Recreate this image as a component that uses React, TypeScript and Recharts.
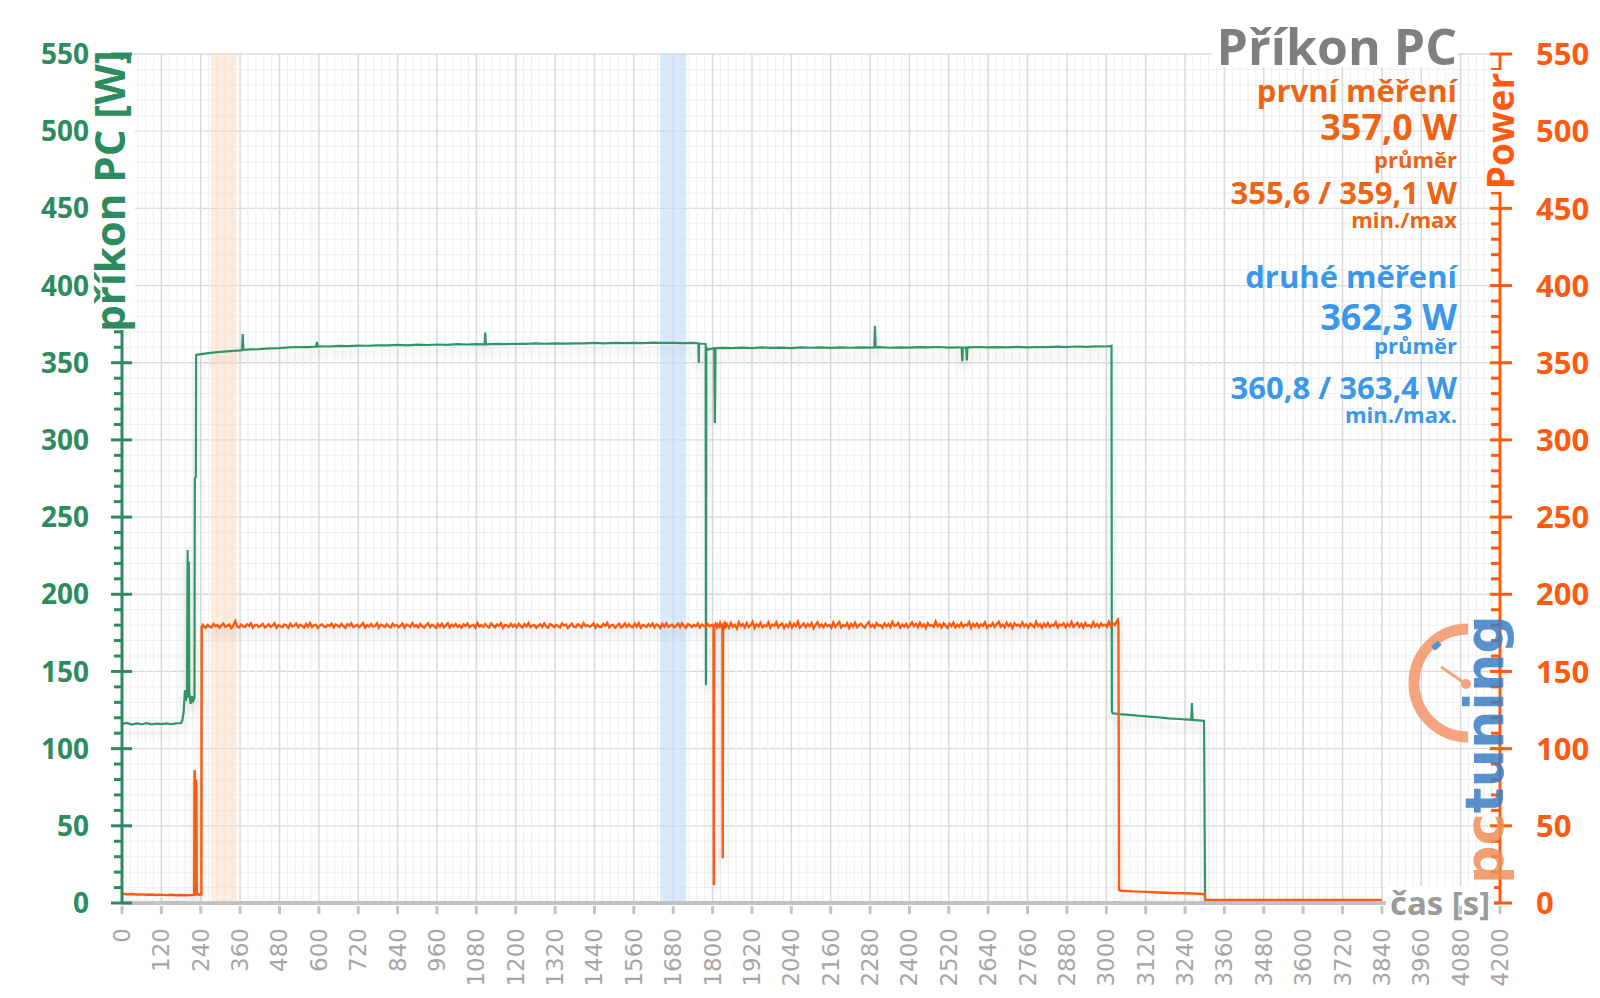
import React from 'react';
import { LineChart, Line, XAxis, YAxis, CartesianGrid, ReferenceArea } from 'recharts';

const FONT = '"Open Sans", "DejaVu Sans", sans-serif';
const GREEN = '#2e8b5f';
const GREEN_LINE = '#2f9668';
const ORANGE = '#ff5a0f';
const ORANGE_TEXT = '#ec6414';
const BLUE = '#3b97ea';

// plot box in page pixels (used for margins and grid styling)
const PLOT = { left: 122, right: 1500, top: 54, bottom: 903 };

// axis labels
const timeLabels = [0, 120, 240, 360, 480, 600, 720, 840, 960, 1080, 1200, 1320, 1440, 1560, 1680, 1800, 1920, 2040,
  2160, 2280, 2400, 2520, 2640, 2760, 2880, 3000, 3120, 3240, 3360, 3480, 3600, 3720, 3840, 3960, 4080, 4200];
const powerLabels = [0, 50, 100, 150, 200, 250, 300, 350, 400, 450, 500, 550];
const timeGrid = Array.from({ length: 176 }, (_, i) => i * 24);
const powerGrid = Array.from({ length: 56 }, (_, i) => i * 10);

// highlighted windows (s)
const bandFirst = [270, 350];
const bandSecond = [1640, 1720];

// příkon PC (green) – irregular parts
const greenStartT = [0, 15, 30, 45, 60, 75, 90, 105, 120, 135, 150, 165, 180, 184, 188, 192, 195, 198, 200, 201, 203, 204, 205, 209, 213, 217, 221, 222, 225, 226];
const greenStartW = [116.0, 116.7, 115.6, 116.4, 115.8, 116.5, 115.7, 116.2, 115.9, 116.3, 115.8, 116.4, 116.6, 118.5, 124.0, 138.0, 131.0, 136.0, 228.7, 140.0, 133.0, 221.0, 137.0, 129.0, 134.0, 131.0, 133.0, 275.0, 276.0, 355.0];
// 240 s .. 1740 s, every 30 s
const greenLoadA = [355.6, 356.4, 357.0, 357.5, 358.0, 358.6, 358.8, 359.3, 359.5, 359.9,
  360.2, 360.1, 360.6, 360.5, 360.9, 360.7, 361.1, 361.0, 361.3, 361.2,
  361.5, 361.3, 361.7, 361.5, 361.8, 361.6, 362.0, 361.8, 362.1, 361.9,
  362.2, 362.0, 362.3, 362.2, 362.5, 362.3, 362.6, 362.4, 362.6, 362.5,
  362.8, 362.6, 362.8, 362.7, 362.9, 362.7, 363.0, 362.8, 362.9, 362.7, 362.8];
const greenSpikeT = [366, 368, 370, 592, 594, 596, 1105, 1107, 1109, 2293, 2295, 2297, 2559, 2561, 2563, 2573, 2575, 2577];
const greenSpikeW = [358.1, 368.6, 358.3, 360.5, 363.5, 360.4, 361.9, 369.5, 361.9, 359.9, 374.0, 359.9, 359.9, 351.0, 359.8, 359.9, 351.5, 359.9];
const greenMidT = [1752, 1757, 1758, 1759, 1776, 1779, 1780, 1781, 1786, 1795, 1805, 1807, 1809, 1815];
const greenMidW = [362.7, 362.5, 350.0, 362.4, 362.3, 362.0, 141.0, 359.8, 358.6, 359.0, 359.3, 311.0, 359.2, 359.5];
// 1830 s .. 3000 s, every 30 s
const greenLoadB = [359.6, 359.4, 359.8, 359.5, 359.9, 359.6, 359.8, 359.5, 359.9, 359.7,
  360.0, 359.6, 359.9, 359.7, 360.0, 359.8, 360.1, 359.7, 360.0, 359.8,
  360.1, 359.9, 360.2, 359.8, 360.0, 359.9, 360.2, 359.9, 360.1, 360.0,
  360.3, 360.0, 360.2, 360.1, 360.4, 360.2, 360.5, 360.3, 360.6, 360.5];
const greenEndT = [3010, 3016, 3017, 3020, 3040, 3070, 3100, 3130, 3160, 3190, 3220, 3250, 3259, 3261, 3263, 3280, 3298, 3301, 3320, 3500, 3700, 3840];
const greenEndW = [360.8, 361.0, 124.0, 122.9, 122.4, 121.9, 121.3, 120.8, 120.2, 119.6, 119.2, 118.8, 118.7, 129.6, 118.6, 118.3, 118.0, 1.6, 1.5, 1.5, 1.5, 1.5];

// Power (orange)
const orangeStartT = [0, 15, 30, 45, 60, 75, 90, 105, 120, 135, 150, 165, 180, 195, 210, 220, 221, 222, 223, 225, 226, 227, 228, 235, 242, 243, 246];
const orangeStartW = [6.0, 5.7, 5.8, 5.5, 5.6, 5.3, 5.5, 5.2, 5.4, 5.1, 5.3, 5.0, 5.2, 5.0, 5.1, 5.3, 86.0, 84.5, 6.0, 5.8, 80.0, 76.0, 6.2, 5.4, 5.6, 179.0, 180.2];
// 249 s .. 1797 s, every 6 s
const orangeLoadA = [179.4, 178.2, 180.1, 179.0, 178.6, 180.7, 179.3, 180.0, 178.4, 179.8,
  181.0, 178.9, 179.5, 180.4, 178.1, 179.7, 182.6, 179.2, 178.5, 180.3,
  179.1, 178.7, 180.6, 179.4, 181.1, 178.3, 179.9, 180.2, 178.8, 179.6,
  180.8, 178.5, 179.2, 180.5, 178.9, 179.7, 181.2, 178.2, 180.0, 179.3,
  178.6, 180.4, 179.8, 178.3, 180.9, 179.1, 179.6, 181.0, 178.7, 180.2,
  179.5, 178.4, 180.7, 179.0, 181.3, 178.8, 179.9, 180.3, 178.1, 179.7,
  180.6, 179.2, 178.6, 180.1, 179.4, 181.0, 178.5, 180.4, 179.8, 178.9,
  180.8, 179.3, 178.2, 180.5, 179.6, 181.1, 178.7, 179.4, 180.2, 178.6,
  179.9, 181.4, 178.4, 180.0, 179.1, 180.7, 178.9, 179.5, 181.2, 178.3,
  180.3, 179.7, 178.8, 180.6, 179.2, 178.5, 180.9, 179.4, 180.1, 178.7,
  179.6, 181.0, 178.3, 180.4, 179.8, 178.9, 181.3, 179.1, 180.0, 178.6,
  180.7, 179.3, 178.4, 179.9, 181.1, 178.8, 180.2, 179.5, 178.2, 180.6,
  179.0, 180.9, 178.6, 179.7, 181.2, 178.5, 180.3, 179.2, 180.8, 178.9,
  179.8, 178.3, 180.5, 179.4, 181.0, 178.7, 179.6, 180.2, 178.4, 181.4,
  179.1, 180.0, 178.8, 180.7, 179.3, 178.5, 181.1, 179.9, 178.6, 180.4,
  179.5, 181.2, 178.2, 180.1, 179.7, 178.9, 180.8, 179.0, 180.3, 178.6,
  180.9, 179.4, 178.5, 180.6, 179.2, 181.3, 178.7, 179.8, 180.1, 178.3,
  179.6, 180.5, 178.9, 181.0, 179.1, 178.4, 180.7, 179.9, 178.8, 180.2,
  179.3, 178.6, 181.1, 179.7, 180.4, 178.2, 179.5, 180.9, 179.0, 178.7,
  180.6, 179.8, 178.5, 181.2, 179.3, 180.0, 178.9, 179.6, 181.0, 178.4,
  180.3, 179.1, 178.8, 180.7, 179.5, 181.4, 178.6, 179.9, 180.2, 178.3,
  179.7, 180.8, 178.5, 179.4, 181.1, 178.9, 180.5, 179.2, 178.7, 180.9,
  179.0, 181.3, 178.4, 180.1, 179.6, 178.8, 180.6, 179.3, 181.0, 178.5,
  180.4, 179.8, 178.2, 180.7, 179.1, 181.2, 178.9, 179.7, 180.3, 178.6,
  179.5, 180.9, 178.7, 181.1, 179.4, 178.3, 180.6, 179.9, 178.8, 180.2,
  179.2, 181.0, 178.5, 180.4, 179.7, 178.9, 180.8, 179.3, 180.0];
const orangeMidT = [1800, 1803, 1804, 1805, 1809, 1813, 1816, 1820, 1823, 1827, 1830, 1831, 1832, 1835, 1838, 1841];
const orangeMidW = [180.2, 179.0, 11.6, 179.6, 180.9, 178.6, 180.4, 179.1, 181.2, 178.8, 179.9, 29.0, 180.5, 178.7, 181.0, 179.3];
// 1844 s .. 3032 s, every 6 s
const orangeLoadB = [180.6, 178.3, 181.5, 179.0, 180.2, 177.9, 181.8, 179.4, 180.7, 178.5,
  181.2, 178.8, 180.0, 182.1, 178.2, 180.5, 179.1, 181.4, 178.6, 179.9,
  179.2, 181.7, 178.4, 180.4, 179.6, 181.9, 178.7, 180.1, 181.0, 178.1,
  180.3, 178.9, 181.5, 178.5, 180.8, 179.4, 182.2, 178.4, 179.8, 181.1,
  178.7, 180.6, 179.2, 181.3, 178.0, 180.2, 181.8, 179.0, 180.5, 178.6,
  180.9, 179.5, 180.1, 178.3, 181.7, 178.8, 180.4, 182.0, 178.5, 180.0,
  179.3, 181.2, 178.2, 180.7, 179.1, 181.5, 178.7, 179.9, 180.8, 179.4,
  178.4, 180.5, 181.9, 178.9, 180.2, 178.6, 181.3, 179.6, 180.0, 178.3,
  181.0, 179.2, 180.6, 178.7, 182.1, 179.5, 179.8, 181.4, 178.4, 180.3,
  179.0, 180.8, 178.5, 180.1, 181.8, 179.3, 180.7, 178.7, 181.6, 179.1,
  180.4, 178.1, 181.2, 179.6, 180.0, 178.8, 182.3, 179.2, 180.6, 178.5,
  181.1, 179.7, 178.3, 180.9, 179.4, 181.6, 178.6, 180.2, 179.0, 181.4,
  178.9, 180.3, 179.8, 182.0, 178.2, 180.7, 179.1, 181.0, 178.7, 180.5,
  179.5, 181.8, 178.4, 180.0, 179.3, 181.3, 178.8, 180.6, 182.2, 179.0,
  180.2, 178.6, 181.5, 179.4, 180.8, 178.1, 181.1, 179.7, 180.3, 178.9,
  181.7, 179.2, 180.5, 178.5, 181.0, 179.8, 178.7, 182.1, 179.4, 180.6,
  178.3, 180.9, 179.1, 181.4, 178.8, 180.2, 179.6, 181.9, 178.5, 180.4,
  179.9, 181.2, 178.6, 180.7, 179.3, 182.0, 178.9, 180.1, 181.5, 179.0,
  180.8, 178.4, 181.3, 179.5, 180.0, 178.7, 181.8, 179.2, 180.6, 178.8,
  181.0, 179.6, 180.3, 178.9, 182.2, 179.4, 181.1, 180.0, 182.4];
const orangeEndT = [3035, 3037, 3039, 3040, 3050, 3080, 3120, 3160, 3200, 3240, 3280, 3299, 3302, 3400, 3500, 3600, 3700, 3840];
const orangeEndW = [183.4, 180.6, 8.5, 8.2, 7.9, 7.5, 7.2, 6.8, 6.5, 6.3, 6.0, 5.8, 2.0, 1.9, 2.0, 1.9, 2.0, 1.9];

type Pt = { t: number; w: number };
const pairs = (ts: number[], ws: number[]): Pt[] => ts.map((t, i) => ({ t, w: ws[i] }));
const sampled = (start: number, step: number, ws: number[]): Pt[] => ws.map((w, i) => ({ t: start + i * step, w }));
const byTime = (a: Pt, b: Pt) => a.t - b.t;

const greenData = [
  ...pairs(greenStartT, greenStartW),
  ...sampled(240, 30, greenLoadA),
  ...pairs(greenSpikeT, greenSpikeW),
  ...pairs(greenMidT, greenMidW),
  ...sampled(1830, 30, greenLoadB),
  ...pairs(greenEndT, greenEndW),
].sort(byTime);

const orangeData = [
  ...pairs(orangeStartT, orangeStartW),
  ...sampled(249, 6, orangeLoadA),
  ...pairs(orangeMidT, orangeMidW),
  ...sampled(1844, 6, orangeLoadB),
  ...pairs(orangeEndT, orangeEndW),
].sort(byTime);

const LeftTick = (props: any) => {
  const { x, y, payload } = props;
  if (!powerLabels.includes(payload.value)) {
    return <line x1={x - 8} x2={x} y1={y} y2={y} stroke={GREEN} strokeWidth={3} />;
  }
  return (
    <g>
      <line x1={x - 11} x2={x + 10} y1={y} y2={y} stroke={GREEN} strokeWidth={3} />
      <text x={x - 33} y={y} dy="0.36em" textAnchor="end" fill={GREEN} fontFamily={FONT} fontWeight={700} fontSize={28}>
        {payload.value}
      </text>
    </g>
  );
};

const RightTick = (props: any) => {
  const { x, y, payload } = props;
  if (!powerLabels.includes(payload.value)) {
    return <line x1={x - 9} x2={x} y1={y} y2={y} stroke={ORANGE} strokeWidth={3} />;
  }
  return (
    <g>
      <line x1={x - 10} x2={x + 12} y1={y} y2={y} stroke={ORANGE} strokeWidth={3} />
      <text x={x + 36} y={y} dy="0.36em" textAnchor="start" fill={ORANGE} fontFamily={FONT} fontWeight={700} fontSize={31}>
        {payload.value}
      </text>
    </g>
  );
};

const BottomTick = (props: any) => {
  const { x, y, payload } = props;
  if (!timeLabels.includes(payload.value)) return <g />;
  const ty = y + 25;
  return (
    <g>
      <line x1={x} x2={x} y1={y + 3} y2={y + 11} stroke="#c4c4c4" strokeWidth={3} />
      <text x={x} y={ty} transform={`rotate(-90, ${x}, ${ty})`} textAnchor="end" dominantBaseline="central"
        fill="#a6a6a6" fontFamily='"DejaVu Sans", sans-serif' fontSize={23}>
        {payload.value}
      </text>
    </g>
  );
};

const hLine = (p: any) => {
  const v = Math.round(((PLOT.bottom - p.y1) / (PLOT.bottom - PLOT.top)) * 55) * 10;
  const major = v % 50 === 0;
  return <line key={p.key} x1={p.x1} x2={p.x2} y1={p.y1} y2={p.y2} stroke={major ? '#dadada' : '#efefef'} strokeWidth={major ? 1.3 : 1} />;
};

const vLine = (p: any) => {
  const v = Math.round(((p.x1 - PLOT.left) / (PLOT.right - PLOT.left)) * 175) * 24;
  const major = v % 120 === 0;
  return <line key={p.key} x1={p.x1} x2={p.x2} y1={p.y1} y2={p.y2} stroke={major ? '#d7dadf' : '#efefef'} strokeWidth={major ? 1.5 : 1} />;
};

export default function App() {
  return (
    <div style={{ position: 'absolute', left: 0, top: 0, width: 1600, height: 998, background: '#fff' }}>
      <style>{`
        .green-line .recharts-line-curve, .orange-line .recharts-line-curve {
          filter: drop-shadow(0px 8px 4px rgba(0,0,0,0.13));
        }
      `}</style>
      <LineChart width={1600} height={998} margin={{ top: PLOT.top, right: 0, bottom: 0, left: 0 }}>
        <CartesianGrid horizontal={hLine} vertical={vLine} />
        <XAxis dataKey="t" type="number" domain={[0, 4200]} ticks={timeGrid} interval={0} height={95}
          tickSize={0} tickMargin={0} tickLine={false} tick={BottomTick}
          axisLine={{ stroke: '#c2c2c2', strokeWidth: 4 }} allowDataOverflow />
        <YAxis type="number" domain={[0, 550]} ticks={powerGrid} interval={0} width={PLOT.left}
          tickSize={0} tickMargin={0} tickLine={false} tick={LeftTick}
          axisLine={{ stroke: GREEN, strokeWidth: 3 }} allowDataOverflow />
        <YAxis yAxisId="right" orientation="right" type="number" domain={[0, 550]} ticks={powerGrid} interval={0}
          width={1600 - PLOT.right} tickSize={0} tickMargin={0} tickLine={false} tick={RightTick}
          axisLine={{ stroke: ORANGE, strokeWidth: 3 }} allowDataOverflow />
        <ReferenceArea x1={bandFirst[0]} x2={bandFirst[1]} fill="#fbd9bf" fillOpacity={0.5} stroke="none" />
        <ReferenceArea x1={bandSecond[0]} x2={bandSecond[1]} fill="#c6defa" fillOpacity={0.65} stroke="none" />
        <Line data={greenData} dataKey="w" type="linear" stroke={GREEN_LINE} strokeWidth={2.2} dot={false}
          activeDot={false} isAnimationActive={false} className="green-line" />
        <Line data={orangeData} dataKey="w" yAxisId="right" type="linear" stroke={ORANGE} strokeWidth={2.4} dot={false}
          activeDot={false} isAnimationActive={false} className="orange-line" />
      </LineChart>

      <svg width={1600} height={998} style={{ position: 'absolute', left: 0, top: 0, pointerEvents: 'none' }}>
        <g fontFamily={FONT} fontWeight={700}>
          <rect x={93} y={60} width={42} height={270} fill="#fff" />
          <text x={125} y={191} transform="rotate(-90, 125, 191)" textAnchor="middle" fill={GREEN} fontSize={42}>příkon PC [W]</text>
          <rect x={1485} y={70} width={32} height={122} fill="#fff" />
          <text x={1514} y={131} transform="rotate(-90, 1514, 131)" textAnchor="middle" fill={ORANGE} fontSize={37}>Power</text>
          <rect x={1386} y={886} width={108} height={19} fill="#fff" />
          <text x={1440} y={903} dy="0.36em" textAnchor="middle" fill="#9b9b9b" fontSize={33}>čas [s]</text>

          <rect x={1212} y={24} width={246} height={43} fill="#fff" />
          <text x={1457} y={65} textAnchor="end" fill="#7f7f7f" fontSize={50}>Příkon PC</text>
          <g textAnchor="end" fill={ORANGE_TEXT}>
            <text x={1457} y={102} fontSize={31}>první měření</text>
            <text x={1457} y={140} fontSize={36}>357,0 W</text>
            <text x={1457} y={168} fontSize={22}>průměr</text>
            <text x={1457} y={204} fontSize={31}>355,6 / 359,1 W</text>
            <text x={1457} y={228} fontSize={22}>min./max</text>
          </g>
          <g textAnchor="end" fill={BLUE}>
            <text x={1457} y={288} fontSize={31}>druhé měření</text>
            <text x={1457} y={330} fontSize={36}>362,3 W</text>
            <text x={1457} y={354} fontSize={22}>průměr</text>
            <text x={1457} y={399} fontSize={31}>360,8 / 363,4 W</text>
            <text x={1457} y={423} fontSize={22}>min./max.</text>
          </g>
        </g>

        <g opacity={0.85}>
          <path d="M 1468 629 A 54 54 0 0 0 1468 737" fill="none" stroke="#f4956a" strokeWidth={11} />
          <line x1={1441} y1={667} x2={1466} y2={684} stroke="#f4956a" strokeWidth={3} />
          <circle cx={1466} cy={684} r={5} fill="#f4956a" />
          <rect x={1432} y={643} width={9} height={6} fill="#3a80c8" transform="rotate(-40 1436 646)" />
          <text x={1503} y={884} transform="rotate(-90, 1503, 884)" fontFamily='"DejaVu Sans", sans-serif' fontWeight={700} fontSize={54}>
            <tspan fill="#f0905a">pc</tspan>
            <tspan fill="#3d7ec4">tuning</tspan>
          </text>
        </g>
      </svg>
    </div>
  );
}
